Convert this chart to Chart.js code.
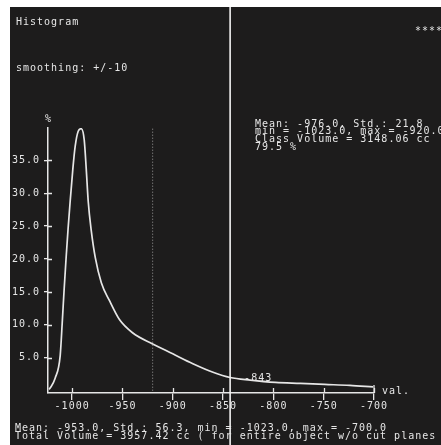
<!DOCTYPE html>
<html><head><meta charset="utf-8">
<script src="https://cdn.jsdelivr.net/npm/chart.js@4"></script>
<style>html,body{margin:0;padding:0;background:#fff;overflow:hidden}canvas{display:block}</style>
</head><body>
<canvas id="c" width="441" height="445"></canvas>
<script>
// ---- data ----
const huVals  = [-1023, -1021.9, -1016.9, -1011.9, -1009.9, -1008, -1006, -1004, -1002, -999.3, -997, -994, -991, -988, -986, -984, -981, -977, -971, -963, -953, -940, -920, -900, -880, -860, -843, -823, -798, -773, -749, -724, -701];
const pctVals = [0.2, 0.4, 1.9, 5.3, 10.2, 15.3, 20.2, 24.7, 28.7, 33.7, 37.1, 39.4, 39.8, 38.1, 33.7, 28.7, 24.3, 20.2, 16.4, 13.7, 10.8, 8.8, 7.1, 5.6, 4.1, 2.8, 2.0, 1.6, 1.25, 1.1, 0.95, 0.8, 0.57];
const xTickVals = [-1000, -950, -900, -850, -800, -750, -700];
const yTickVals = [5, 10, 15, 20, 25, 30, 35];
const classMax = -920;
const markerVal = -843;
const xMin = -1024, xMax = -700, yMin = -0.35, yMax = 39.9;
const titleText = 'Histogram';
const smoothText = 'smoothing: +/-10';
const starsText = '****';
const classStats = ['Mean: -976.0, Std.: 21.8', 'min = -1023.0, max = -920.0', 'Class Volume = 3148.06 cc', '79.5 %'];
const totalStats = ['Mean: -953.0, Std.: 56.3, min = -1023.0, max = -700.0', 'Total Volume = 3957.42 cc ( for entire object w/o cut planes !'];

const FG = '#e6e6e6';
const BG = '#1d1c1c';
const FONT = '10px "DejaVu Sans Mono"';
const LS = '1px';

const deco = {
  id: 'deco',
  beforeDraw(chart) {
    const ctx = chart.ctx;
    ctx.save();
    ctx.fillStyle = '#ffffff';
    ctx.fillRect(0, 0, chart.width, chart.height);
    ctx.fillStyle = BG;
    ctx.fillRect(10, 7, chart.width - 10, chart.height - 7);
    ctx.restore();
    ctx.letterSpacing = LS;
  },
  afterDraw(chart) {
    const ctx = chart.ctx;
    const xs = chart.scales.x, ys = chart.scales.y;
    const ca = chart.chartArea;
    ctx.save();
    ctx.letterSpacing = LS;
    ctx.strokeStyle = FG;
    ctx.lineWidth = 1.3;
    // inner halves of tick marks
    ctx.beginPath();
    yTickVals.forEach(v => { const p = Math.round(ys.getPixelForValue(v)) + 0.5; ctx.moveTo(ca.left, p); ctx.lineTo(ca.left + 4, p); });
    xTickVals.forEach(v => { const p = Math.round(xs.getPixelForValue(v)) + 0.5; ctx.moveTo(p, ca.bottom); ctx.lineTo(p, ca.bottom - 5); });
    const pe = xs.getPixelForValue(xMax);
    ctx.moveTo(pe, ca.bottom - 8); ctx.lineTo(pe, ca.bottom);
    ctx.stroke();
    // marker line spanning the whole window
    const mx = xs.getPixelForValue(markerVal);
    ctx.lineWidth = 1.6;
    ctx.strokeStyle = '#f2f2f2';
    ctx.beginPath(); ctx.moveTo(mx, 7); ctx.lineTo(mx, chart.height); ctx.stroke();
    // texts
    ctx.fillStyle = FG;
    ctx.font = FONT;
    ctx.textBaseline = 'middle';
    ctx.textAlign = 'left';
    ctx.fillText(titleText, 16, 22);
    ctx.fillText(smoothText, 16, 68);
    ctx.fillText(starsText, 415, 31);
    ctx.fillText('%', 45, 119);
    classStats.forEach((t, i) => ctx.fillText(t, 255, 124 + i * 7.8));
    ctx.fillText('val.', 382, 391);
    ctx.fillText(String(markerVal), mx + 14, ys.getPixelForValue(pctVals[26]) + 1);
    totalStats.forEach((t, i) => ctx.fillText(t, 15, 428 + i * 8.7));
    ctx.restore();
  }
};

const curve = huVals.map((x, i) => ({ x, y: pctVals[i] }));
const classLine = [{ x: classMax, y: 0 }, { x: classMax, y: yMax }];

new Chart(document.getElementById('c'), {
  type: 'scatter',
  data: {
    datasets: [
      { data: classLine, showLine: true, borderColor: '#9a9a9a', borderWidth: 1, borderDash: [1, 2], pointRadius: 0 },
      { data: curve, showLine: true, borderColor: FG, borderWidth: 1.7, pointRadius: 0, cubicInterpolationMode: 'monotone' }
    ]
  },
  options: {
    responsive: false,
    animation: false,
    events: [],
    layout: { padding: { left: 0, top: 128, right: 67, bottom: 0 } },
    plugins: { legend: { display: false }, tooltip: { enabled: false } },
    scales: {
      x: {
        type: 'linear', min: xMin, max: xMax,
        afterFit: s => { s.height = 52; },
        afterBuildTicks: s => { s.ticks = xTickVals.map(v => ({ value: v })); },
        grid: { display: true, drawOnChartArea: false, color: FG, lineWidth: 1.3, tickLength: 7 },
        border: { display: true, color: FG, width: 1.5 },
        ticks: { color: FG, font: { family: 'DejaVu Sans Mono', size: 10 }, padding: 0, maxRotation: 0, autoSkip: false, callback: v => String(v) }
      },
      y: {
        type: 'linear', min: yMin, max: yMax,
        afterFit: s => { s.width = 48; },
        afterBuildTicks: s => { s.ticks = yTickVals.map(v => ({ value: v })); },
        grid: { display: true, drawOnChartArea: false, color: FG, lineWidth: 1.3, tickLength: 4 },
        border: { display: true, color: FG, width: 1.5 },
        ticks: { color: FG, font: { family: 'DejaVu Sans Mono', size: 10 }, padding: 4, autoSkip: false, callback: v => Number(v).toFixed(1) }
      }
    }
  },
  plugins: [deco]
});
</script>
</body></html>
